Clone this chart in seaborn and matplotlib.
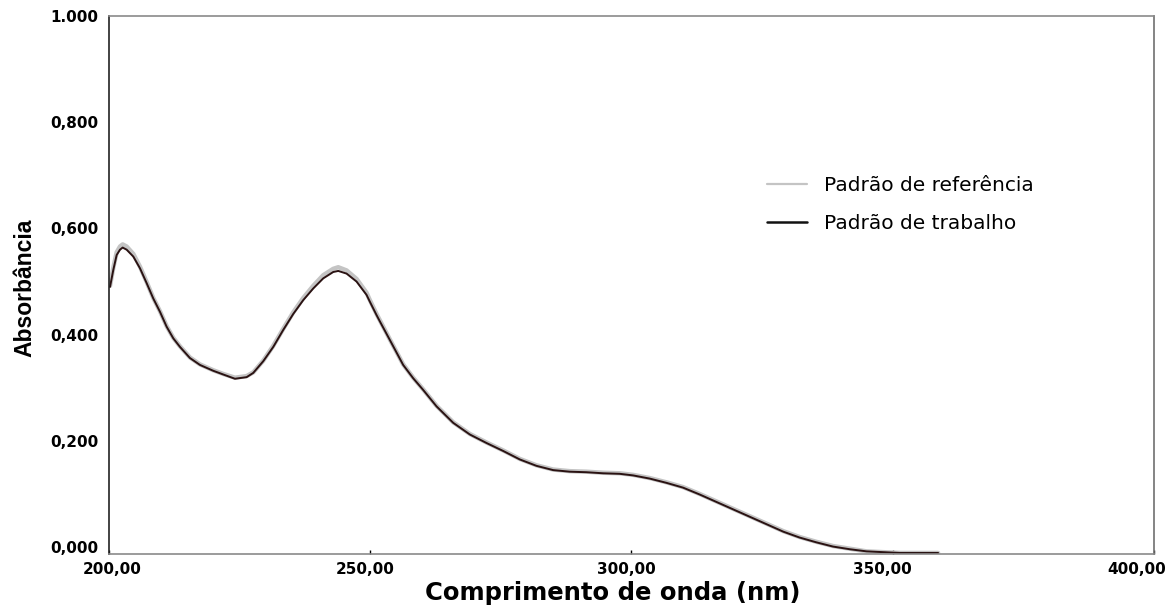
import matplotlib
matplotlib.use("Agg")
import matplotlib.pyplot as plt
import matplotlib.transforms as mtransforms
import pandas as pd
import seaborn as sns

# UV spectrum (wavelength in nm, absorbance)
wavelength = [200.29, 200.92, 201.56, 202.20, 202.71, 203.47, 204.75, 206.02,
              207.30, 208.57, 209.85, 211.12, 212.40, 213.67, 215.58, 217.50,
              220.04, 221.96, 224.19, 226.42, 227.69, 229.60, 231.52, 233.43,
              235.34, 237.25, 239.17, 241.08, 242.99, 243.95, 245.54, 247.45,
              249.36, 250.00, 251.27, 251.91, 253.82, 256.37, 258.28, 260.19,
              262.75, 265.94, 269.13, 272.31, 275.50, 278.69, 281.87, 285.06,
              288.25, 291.43, 294.62, 297.80, 300.35, 303.54, 306.73, 309.90,
              313.10, 316.30, 319.50, 322.70, 325.90, 329.10, 332.20, 335.40,
              338.60, 341.80, 345.00, 351.40, 358.70]
abs_trabalho = [0.490, 0.522, 0.550, 0.560, 0.564, 0.560, 0.547, 0.525,
                0.497, 0.468, 0.443, 0.415, 0.393, 0.377, 0.356, 0.343,
                0.332, 0.325, 0.317, 0.320, 0.328, 0.350, 0.377, 0.409,
                0.439, 0.465, 0.487, 0.506, 0.518, 0.520, 0.515, 0.500,
                0.475, 0.462, 0.437, 0.425, 0.390, 0.343, 0.318, 0.296,
                0.265, 0.234, 0.212, 0.196, 0.181, 0.165, 0.153, 0.145,
                0.142, 0.141, 0.139, 0.138, 0.135, 0.129, 0.121, 0.112,
                0.099, 0.085, 0.071, 0.057, 0.043, 0.029, 0.018, 0.009,
                0.001, -0.004, -0.008, -0.011, -0.011]
# reference standard: nearly superimposed, a touch higher at the maxima
abs_referencia = [0.492, 0.526, 0.555, 0.566, 0.570, 0.566, 0.552, 0.528,
                  0.499, 0.469, 0.444, 0.416, 0.394, 0.378, 0.357, 0.344,
                  0.333, 0.326, 0.319, 0.322, 0.329, 0.351, 0.379, 0.411,
                  0.442, 0.469, 0.492, 0.512, 0.524, 0.527, 0.521, 0.505,
                  0.479, 0.465, 0.439, 0.427, 0.391, 0.344, 0.319, 0.297,
                  0.266, 0.235, 0.213, 0.197, 0.182, 0.166, 0.154, 0.146,
                  0.143, 0.142, 0.140, 0.139, 0.136, 0.130, 0.122, 0.113,
                  0.100, 0.086, 0.072, 0.058, 0.044, 0.030, 0.019, 0.010,
                  0.002, -0.003, -0.008, -0.011, -0.011]

series_names = ["Padrão de referência", "Padrão de trabalho"]
x_ticks = [200, 250, 300, 350, 400]
x_tick_labels = ["200,00", "250,00", "300,00", "350,00", "400,00"]
y_ticks = [0.0, 0.2, 0.4, 0.6, 0.8, 1.0]
y_tick_labels = ["0,000", "0,200", "0,400", "0,600", "0,800", "1.000"]

df = pd.DataFrame({
    "wl": wavelength * 2,
    "abs": abs_referencia + abs_trabalho,
    "serie": [series_names[0]] * len(wavelength) + [series_names[1]] * len(wavelength),
})

sns.set_theme(style="white")
plt.rcParams["font.family"] = ["DejaVu Sans"]
plt.rcParams["text.color"] = "black"
plt.rcParams["axes.labelcolor"] = "black"
plt.rcParams["xtick.color"] = "black"
plt.rcParams["ytick.color"] = "black"

fig = plt.figure(figsize=(11.73, 6.09), dpi=100)
ax = fig.add_axes([0.0925, 0.0903, 0.8913, 0.8834])

sns.lineplot(data=df[df.serie == series_names[0]], x="wl", y="abs",
             color="#c4c4c4", lw=3.2, ax=ax, legend=False)
sns.lineplot(data=df[df.serie == series_names[1]], x="wl", y="abs",
             color="#2a1212", lw=1.4, ax=ax, legend=False)

ax.set_xlim(200, 400)
ax.set_ylim(-0.013, 1.0)

ax.set_xticks(x_ticks)
ax.set_xticklabels(x_tick_labels, fontsize=11, fontweight="bold")
ax.set_yticks(y_ticks)
ax.set_yticklabels(y_tick_labels, fontsize=11, fontweight="bold")
ax.tick_params(axis="x", direction="in", length=3, width=1, color="black",
               pad=6, bottom=True, labelcolor="black")
ax.tick_params(axis="y", length=0, pad=7, labelcolor="black")

# nudge the x tick labels sideways
offsets_px = [4, -5, -5, -10, -17]
for lbl, dx in zip(ax.get_xticklabels(), offsets_px):
    lbl.set_transform(lbl.get_transform() +
                      mtransforms.ScaledTranslation(dx / 100, 0, fig.dpi_scale_trans))

ax.set_xlabel("Comprimento de onda (nm)", fontsize=17.5, fontweight="bold",
              labelpad=0, color="black")
ax.xaxis.set_label_coords(0.4825, -0.0505)
ax.set_ylabel("Absorbância", fontsize=16.5, fontweight="bold",
              family=["Liberation Sans", "DejaVu Sans"], color="black")
ax.yaxis.set_label_coords(-0.069, 0.494)

for side, col in [("left", "#222222"), ("bottom", "#8a8a8a"),
                  ("top", "#8a8a8a"), ("right", "#707070")]:
    ax.spines[side].set_visible(True)
    ax.spines[side].set_color(col)
    ax.spines[side].set_linewidth(1.2)

handles = [plt.Line2D([], [], color="#c4c4c4", lw=1.6),
           plt.Line2D([], [], color="#111111", lw=1.8)]
leg = ax.legend(handles, series_names, loc="center left", bbox_to_anchor=(0.630, 0.650),
                frameon=False, fontsize=14.5, handlelength=2.0, handletextpad=0.8,
                labelspacing=0.95, borderpad=0, borderaxespad=0)
for t in leg.get_texts():
    t.set_color("black")

fig.savefig("out.png", dpi=100, facecolor="white")
